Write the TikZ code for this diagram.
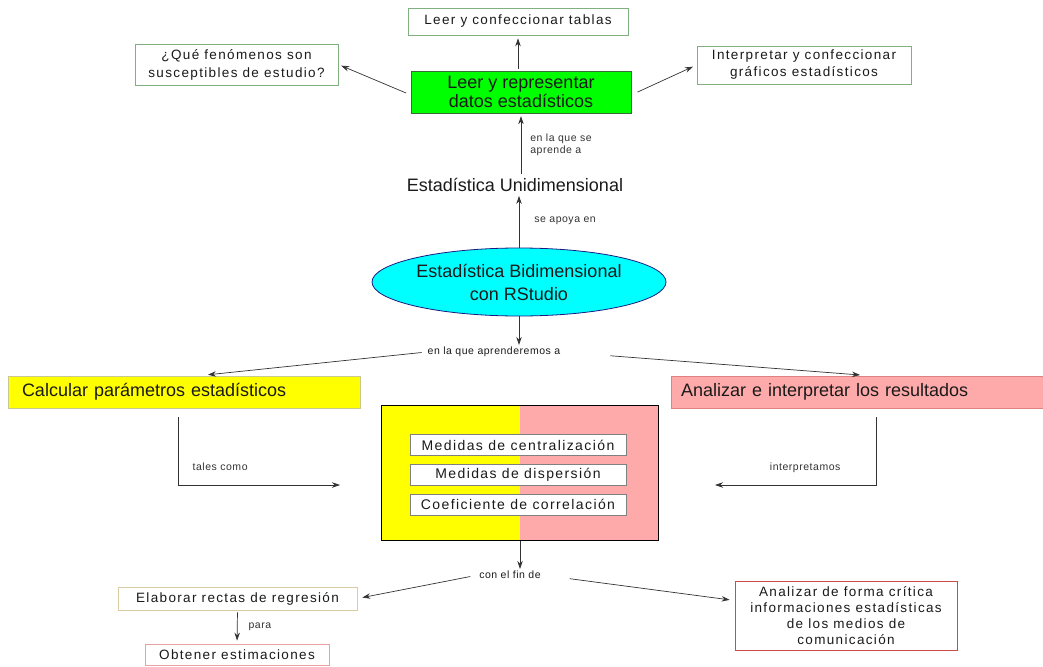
\documentclass[tikz,border=0pt]{standalone}
\usepackage{fontspec}
\setmainfont{Liberation Sans}
\newfontfamily\spaced[LetterSpace=10]{Liberation Sans}
\newfontfamily\lblfont[LetterSpace=5]{Liberation Sans}
\usetikzlibrary{arrows.meta,positioning,calc,shapes.geometric}
\definecolor{Ink}{HTML}{1A1A1A}
\definecolor{Wire}{HTML}{333333}
\definecolor{Lime}{HTML}{00FF00}
\definecolor{LimeB}{HTML}{3A6A3A}
\definecolor{Aqua}{HTML}{00FFFF}
\definecolor{NavyB}{HTML}{1A1A80}
\definecolor{Sun}{HTML}{FFFF00}
\definecolor{SunB}{HTML}{C8C890}
\definecolor{Rose}{HTML}{FFAAAA}
\definecolor{RoseB}{HTML}{E08080}
\definecolor{GreenB}{HTML}{80B080}
\definecolor{SandB}{HTML}{D8CCA0}
\definecolor{PinkB}{HTML}{E8A0A0}
\definecolor{RedB}{HTML}{D04A4A}

\begin{document}
\begin{tikzpicture}[x=1pt,y=-1pt,text=Ink,
    font=\fontsize{13.5}{17}\spaced,
    leaf/.style={draw=GreenB,fill=white,line width=0.8pt,align=center,inner sep=1pt},
    big/.style={font=\fontsize{18}{20}\selectfont,line width=0.8pt,inner ysep=0pt,
      minimum height=32pt,align=left},
    item/.style={draw=gray,fill=white,line width=0.8pt,minimum width=216pt,
      minimum height=21pt,inner sep=0pt,font=\fontsize{14}{16}\spaced},
    lbl/.style={font=\fontsize{10.5}{12.5}\lblfont,inner sep=1pt,align=left},
    arr/.style={-{Stealth[length=8pt,width=5.5pt]},Wire,line width=0.7pt},
    >=Stealth]
  \useasboundingbox (0,0) rectangle (1043,666);

  % top part
  \node[leaf,minimum width=220pt,minimum height=27pt] (tablas) at (518,21.5) {Leer y confeccionar tablas};
  \node[leaf,minimum width=203pt,minimum height=41pt,font=\fontsize{13.5}{18}\spaced] (que) at (236.5,64.5) {¿Qué fenómenos son\\susceptibles de estudio?};
  \node[leaf,minimum width=214pt,minimum height=38pt] (graf) at (804,65) {Interpretar y confeccionar\\gráficos estadísticos};
  \node[draw=LimeB,fill=Lime,minimum width=220pt,minimum height=42pt,align=center,inner sep=0pt,
    font=\fontsize{18}{19}\selectfont] (datos) at (521,92) {Leer y representar\\datos estadísticos};
  \node[font=\fontsize{18}{20}\selectfont,inner sep=2pt] (uni) at (515,185) {Estadística Unidimensional};
  \node[ellipse,draw=NavyB,fill=Aqua,line width=0.8pt,minimum width=294pt,minimum height=68pt,
    align=center,inner sep=0pt,font=\fontsize{18}{23}\selectfont] (bidi) at (519,282) {Estadística Bidimensional\\con RStudio};

  \draw[arr,shorten <=2pt,shorten >=3pt] (datos.north -| tablas.south) -- (tablas.south);
  \draw[arr,shorten <=5pt,shorten >=3pt] ([yshift=-3pt]datos.west) -- (que.east);
  \draw[arr,shorten <=7pt,shorten >=4pt] ([yshift=-3pt]datos.east) -- (graf.west);
  \draw[arr,shorten <=2pt,shorten >=3pt] (uni.north -| datos.south) -- node[lbl,right=8pt] {en la que se\\aprende a} (datos.south);
  \draw[arr,shorten >=2pt] (bidi.north) -- node[lbl,right=14pt] {se apoya en} (bidi.north |- uni.south);

  % middle part
  \node[lbl] (apr) at (494,352) {en la que aprenderemos a};
  \node[big,draw=SunB,fill=Sun,inner xsep=14pt,text width=324pt] (calc) at (184,392) {Calcular parámetros estadísticos};
  \node[big,draw=RoseB,fill=Rose,inner xsep=10pt,text width=352pt] (anal) at (857,392) {Analizar e interpretar los resultados};
  \draw[arr,shorten >=1pt] (bidi.south) -- (apr.north -| bidi.south);
  \draw[arr,shorten <=5pt,shorten >=8pt] (apr.west) -- ([xshift=16pt]calc.north);
  \draw[arr,shorten <=49pt,shorten >=8pt] (apr.east) -- ([xshift=11pt]anal.north);

  \node[draw=black,line width=1.8pt,minimum width=277pt,minimum height=135pt,
    path picture={\fill[Sun] (path picture bounding box.south west) rectangle (path picture bounding box.north);
      \fill[Rose] (path picture bounding box.south) rectangle (path picture bounding box.north east);}] (core) at (520,473) {};
  \node[item] (cent) at (518,445) {Medidas de centralización};
  \node[item,below=8pt of cent] (disp) {Medidas de dispersión};
  \node[item,below=8pt of disp] (corr) {Coeficiente de correlación};

  \coordinate (tin) at (340,485);
  \coordinate (tout) at (715,485);
  \draw[arr] ([xshift=-6pt,yshift=-9pt]calc.south) |- node[lbl,pos=0.63,above=13pt] {tales como} (tin);
  \draw[arr] ([xshift=19pt,yshift=-9pt]anal.south) |- node[lbl,pos=0.72,above=11pt] {interpretamos} (tout);

  % bottom part
  \node[lbl] (fin) at (510,575) {con el fin de};
  \node[leaf,draw=SandB,minimum width=239pt,minimum height=23pt] (elab) at (237.5,598.5) {Elaborar rectas de regresión};
  \node[leaf,draw=PinkB,minimum width=184pt,minimum height=21pt] (obt) at (237,654.5) {Obtener estimaciones};
  \node[leaf,draw=RedB,minimum width=222pt,minimum height=69pt,font=\fontsize{13.5}{16}\spaced] (crit) at (846,615.5)
    {Analizar de forma crítica\\informaciones estadísticas\\de los medios de\\comunicación};
  \draw[arr,shorten >=1pt] (core.south) -- (fin.north -| core.south);
  \draw[arr,shorten <=8pt,shorten >=5pt] (fin.west) -- (elab.east);
  \draw[arr,shorten <=28pt,shorten >=5pt] (fin.east) -- ([yshift=15pt]crit.west);
  \draw[arr,shorten <=2pt,shorten >=3pt] (elab.south) -- node[lbl,right=10pt] {para} (obt.north);
\end{tikzpicture}
\end{document}
